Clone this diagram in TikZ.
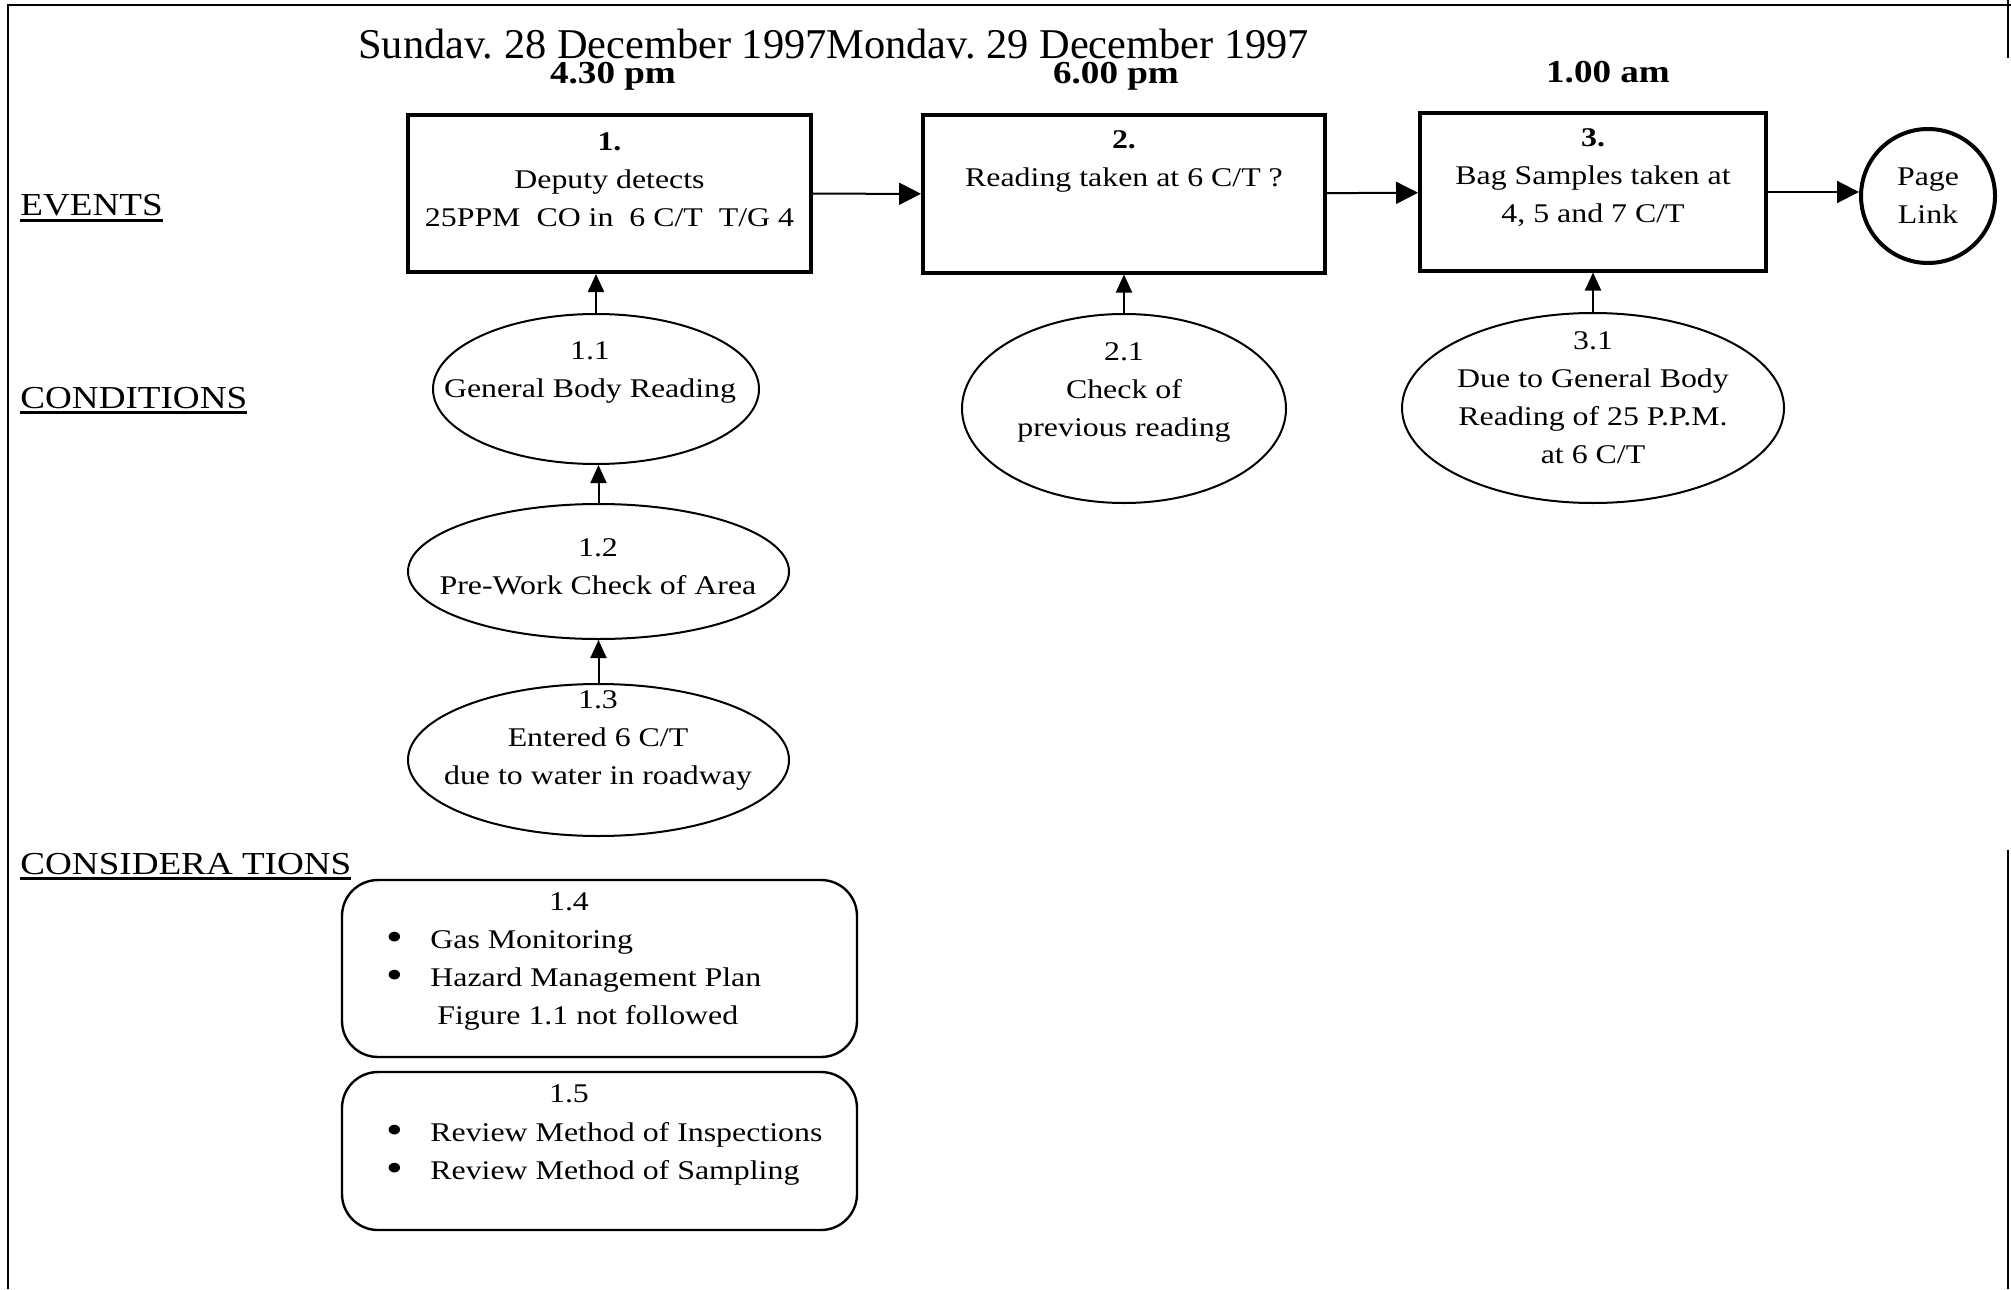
\documentclass[tikz,border=0pt]{standalone}
\usepackage{fontspec}
\setmainfont{Liberation Serif}
\newfontfamily\bodyfont[FakeStretch=1.18]{Liberation Serif}
\newfontfamily\headfont[FakeStretch=1.16]{Liberation Serif}
\usetikzlibrary{arrows.meta,positioning,shapes.geometric}
\frenchspacing
\newcommand\underrule[1]{\setbox0\hbox{#1}\rlap{\rule[-2.9pt]{\wd0}{1.6pt}}\box0}
\newcommand\bitem[1]{\makebox[22pt][l]{\raisebox{-1.2pt}{\scalebox{1.5}{\textbullet}}}#1}

\begin{document}
\begin{tikzpicture}[
  x=0.5pt,y=-0.5pt,
  flow/.style={-{Triangle[length=11pt,width=11pt]},line width=1pt},
  up/.style={-{Triangle[length=9pt,width=8pt]},line width=1pt},
  frame/.style={line width=1pt},
  event/.style={draw,line width=2pt,minimum height=78.5pt,inner sep=0pt},
  cond/.style={draw,ellipse,line width=1pt,inner sep=0pt},
  consid/.style={draw,rounded corners=18pt,line width=1.2pt,minimum width=257.5pt,inner sep=0pt},
  link/.style={draw,circle,line width=2pt,minimum size=67pt,inner sep=0pt,align=center,
               font=\bodyfont\fontsize{13.5}{19}\selectfont},
  txt/.style={font=\bodyfont\fontsize{13.5}{19}\selectfont,align=center,inner sep=0pt},
  lst/.style={txt,align=left,anchor=west},
  heading/.style={font=\headfont\fontsize{16}{19}\selectfont,anchor=base west,inner sep=0pt},
  when/.style={font=\headfont\bfseries\fontsize{16}{19}\selectfont,anchor=base,inner sep=0pt}
]
\useasboundingbox (0,0) rectangle (2011,1289);
% ---------- frame
\draw[frame] (8,1289) -- (8,5) -- (2011,5);
\draw[frame] (2008,0) -- (2008,58);
\draw[frame] (2008,850) -- (2008,1289);
% ---------- dates and times
\node[anchor=base west,inner sep=0pt,font=\fontsize{21.2}{25}\selectfont] (date) at (358,59)
  {Sundav. 28 December 1997Mondav. 29 December 1997};
\node[when] (t1) at (613,84)  {4.30 pm};
\node[when] (t2) at (1116,84) {6.00 pm};
\node[when] (t3) at (1608,83) {1.00 am};
% ---------- row headings
\node[heading] (hev)  at (20,216) {\underrule{EVENTS}};
\node[heading] (hcon) at (20,408) {\underrule{CONDITIONS}};
\node[heading] (hcsd) at (20,874) {\underrule{CONSIDERA TIONS}};
% ---------- events
\node[event,minimum width=201.5pt] (e1) at (609.5,193.5) {};
\node[event,minimum width=201pt]   (e2) at (1124,194) {};
\node[event,minimum width=173pt]   (e3) at (1593,192) {};
\node[link] (pl) at (1928,196) {Page\\Link};
\node[txt] (e1t) at (609.5,180) {\textbf{1.}\\Deputy detects\\25PPM\ \ CO in\ \ 6 C/T\ \ T/G 4};
\node[txt] (e2t) at (1124,161)  {\textbf{2.}\\Reading taken at 6 C/T ?};
\node[txt] (e3t) at (1593,177.5) {\textbf{3.}\\Bag Samples taken at\\4, 5 and 7 C/T};
% ---------- conditions
\node[cond,minimum width=163pt,minimum height=75pt]    (c11) at (596,389) {};
\node[cond,minimum width=190.5pt,minimum height=67.5pt] (c12) at (598.5,571.5) {};
\node[cond,minimum width=190.5pt,minimum height=76pt]  (c13) at (598.5,760) {};
\node[cond,minimum width=162pt,minimum height=94.5pt]  (c21) at (1124,408.5) {};
\node[cond,minimum width=191pt,minimum height=95pt]    (c31) at (1593,408) {};
\node[txt] (c11t) at (590,372)   {1.1\\General Body Reading};
\node[txt] (c12t) at (598,566.5) {1.2\\Pre-Work Check of Area};
\node[txt] (c13t) at (598,740)   {1.3\\Entered 6 C/T\\due to water in roadway};
\node[txt] (c21t) at (1124,392)  {2.1\\Check of\\previous reading};
\node[txt] (c31t) at (1593,398)  {3.1\\Due to General Body\\Reading of 25 P.P.M.\\at 6 C/T};
% ---------- considerations
\node[consid,minimum height=88.5pt] (k14) at (599.5,968.5) {};
\node[consid,minimum height=79pt]   (k15) at (599.5,1151) {};
\node[txt] (k14n) at (569,902)  {1.4};
\node[lst] (k14l) at (386,980)  {\bitem{Gas Monitoring}\\\bitem{Hazard Management Plan}\\\hspace*{25.5pt}Figure 1.1 not followed};
\node[txt] (k15n) at (569,1094) {1.5};
\node[lst] (k15l) at (386,1153.5) {\bitem{Review Method of Inspections}\\\bitem{Review Method of Sampling}};
% ---------- arrows
\draw[flow] (e1) -- (e2);
\draw[flow] (e2) -- (e3);
\draw[flow] (e3.east) -- (pl.west |- e3.east);
\draw[up] (c11.north) -- (c11.north |- e1.south);
\draw[up] (c12.north) -- (c12.north |- c11.south);
\draw[up] (c13.north) -- (c13.north |- c12.south);
\draw[up] (c21.north) -- (c21.north |- e2.south);
\draw[up] (c31.north) -- (c31.north |- e3.south);
\end{tikzpicture}
\end{document}
